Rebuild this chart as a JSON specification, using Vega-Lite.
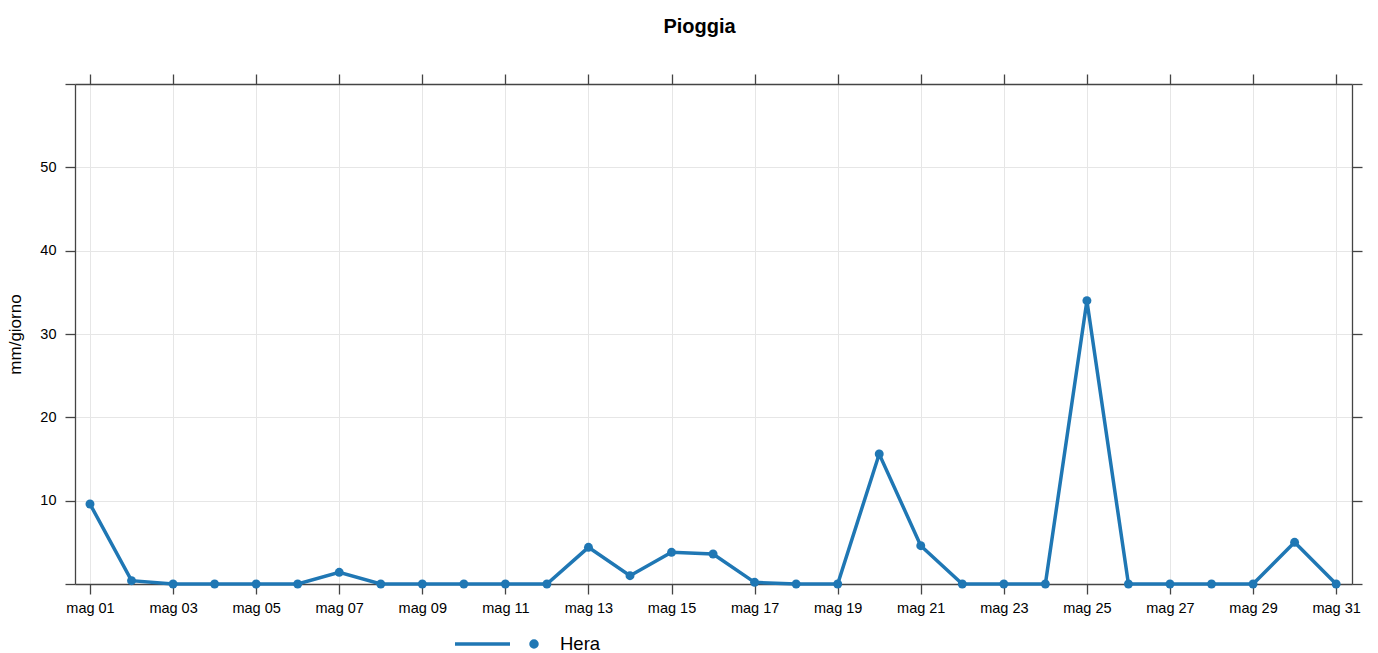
{
  "$schema": "https://vega.github.io/schema/vega-lite/v6.json",
  "autosize": "none",
  "width": 1277,
  "height": 500,
  "padding": {"left": 75, "top": 84, "right": 26, "bottom": 69},
  "background": "white",
  "title": {"text": "Pioggia", "fontSize": 20, "fontWeight": "bold", "font": "Liberation Sans", "color": "#000", "anchor": "middle", "frame": "group", "dx": -14, "offset": 36},
  "config": {
    "font": "Liberation Sans",
    "view": {"stroke": null},
    "axis": {"domainColor": "#444", "domainWidth": 1.3, "tickColor": "#444", "tickWidth": 1.3, "tickSize": 10, "labelFont": "Liberation Sans", "labelFontSize": 14.5, "labelColor": "#000", "gridColor": "#e6e6e6", "gridWidth": 1}
  },
  "data": {"values": [
    {"date": "2024-05-01", "mm": 9.6, "serie": "Hera"},
    {"date": "2024-05-02", "mm": 0.4, "serie": "Hera"},
    {"date": "2024-05-03", "mm": 0, "serie": "Hera"},
    {"date": "2024-05-04", "mm": 0, "serie": "Hera"},
    {"date": "2024-05-05", "mm": 0, "serie": "Hera"},
    {"date": "2024-05-06", "mm": 0, "serie": "Hera"},
    {"date": "2024-05-07", "mm": 1.4, "serie": "Hera"},
    {"date": "2024-05-08", "mm": 0, "serie": "Hera"},
    {"date": "2024-05-09", "mm": 0, "serie": "Hera"},
    {"date": "2024-05-10", "mm": 0, "serie": "Hera"},
    {"date": "2024-05-11", "mm": 0, "serie": "Hera"},
    {"date": "2024-05-12", "mm": 0, "serie": "Hera"},
    {"date": "2024-05-13", "mm": 4.4, "serie": "Hera"},
    {"date": "2024-05-14", "mm": 1.0, "serie": "Hera"},
    {"date": "2024-05-15", "mm": 3.8, "serie": "Hera"},
    {"date": "2024-05-16", "mm": 3.6, "serie": "Hera"},
    {"date": "2024-05-17", "mm": 0.2, "serie": "Hera"},
    {"date": "2024-05-18", "mm": 0, "serie": "Hera"},
    {"date": "2024-05-19", "mm": 0, "serie": "Hera"},
    {"date": "2024-05-20", "mm": 15.6, "serie": "Hera"},
    {"date": "2024-05-21", "mm": 4.6, "serie": "Hera"},
    {"date": "2024-05-22", "mm": 0, "serie": "Hera"},
    {"date": "2024-05-23", "mm": 0, "serie": "Hera"},
    {"date": "2024-05-24", "mm": 0, "serie": "Hera"},
    {"date": "2024-05-25", "mm": 34.0, "serie": "Hera"},
    {"date": "2024-05-26", "mm": 0, "serie": "Hera"},
    {"date": "2024-05-27", "mm": 0, "serie": "Hera"},
    {"date": "2024-05-28", "mm": 0, "serie": "Hera"},
    {"date": "2024-05-29", "mm": 0, "serie": "Hera"},
    {"date": "2024-05-30", "mm": 5.0, "serie": "Hera"},
    {"date": "2024-05-31", "mm": 0, "serie": "Hera"}
  ]},
  "layer": [
    {
      "mark": {"type": "line", "strokeWidth": 3.5},
      "encoding": {
        "x": {"field": "date", "type": "temporal", "scale": {"type": "utc", "domain": ["2024-04-30T15:20:00Z", "2024-05-31T09:10:00Z"]},
          "axis": {"orient": "bottom", "title": null, "tickCount": {"interval": "day", "step": 2}, "labelExpr": "'mag ' + utcFormat(datum.value, '%d')", "labelPadding": 7, "grid": true, "labelFlush": false, "labelOverlap": false}},
        "y": {"field": "mm", "type": "quantitative", "scale": {"domain": [0, 60], "nice": false, "zero": false},
          "axis": {"orient": "left", "title": "mm/giorno", "titleFontSize": 17, "titleFontWeight": "normal", "titleFont": "Liberation Sans", "titleColor": "#000", "titlePadding": 15, "values": [0, 10, 20, 30, 40, 50, 60], "labelExpr": "datum.value == 0 || datum.value == 60 ? '' : datum.label", "grid": true, "labelPadding": 9}},
        "color": {"field": "serie", "type": "nominal", "scale": {"range": ["#1f77b4"]},
          "legend": {"orient": "none", "legendX": 410, "legendY": 548, "title": null,
            "symbolType": "M -4.2 0 L 1.3 0 M 4.0 0 A 0.3 0.3 0 1 1 3.4 0 A 0.3 0.3 0 1 1 4.0 0 Z",
            "symbolSize": 400, "symbolStrokeWidth": 3.5, "symbolStrokeColor": "#1f77b4", "symbolFillColor": "#1f77b4", "symbolOpacity": 1,
            "labelFontSize": 18.5, "labelOffset": 51, "labelColor": "#000", "labelFont": "Liberation Sans"}}
      }
    },
    {
      "mark": {"type": "point", "filled": true, "size": 80, "color": "#1f77b4", "opacity": 1},
      "encoding": {
        "x": {"field": "date", "type": "temporal", "scale": {"type": "utc"},
          "axis": {"orient": "top", "title": null, "tickCount": {"interval": "day", "step": 2}, "labels": false, "grid": false}},
        "y": {"field": "mm", "type": "quantitative",
          "axis": {"orient": "right", "title": null, "values": [0, 10, 20, 30, 40, 50, 60], "labels": false, "grid": false}}
      }
    }
  ],
  "resolve": {"axis": {"x": "independent", "y": "independent"}}
}
